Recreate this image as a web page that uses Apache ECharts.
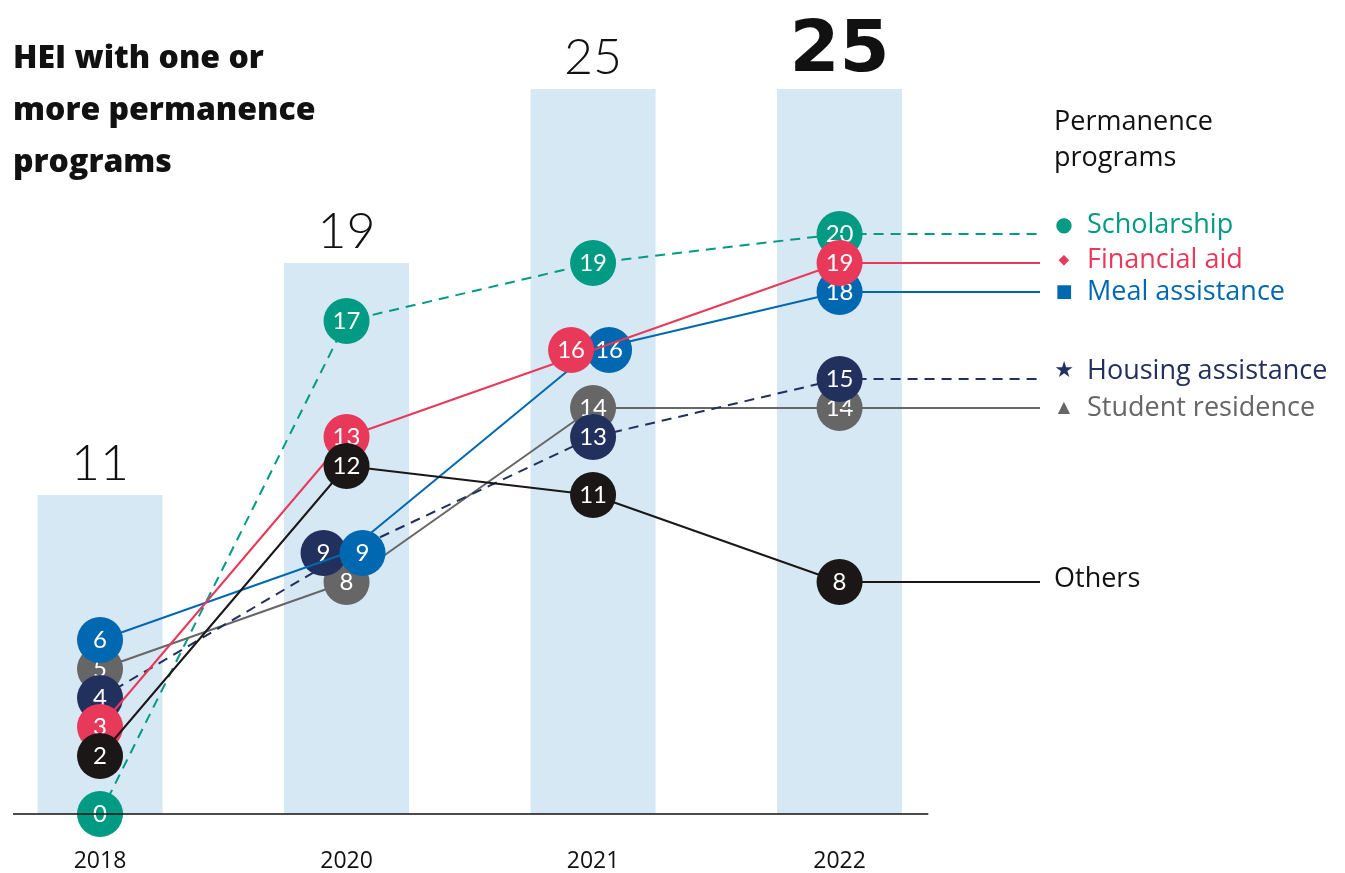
<!DOCTYPE html>
<html>
<head>
<meta charset="utf-8">
<script src="https://cdn.jsdelivr.net/npm/echarts@6/dist/echarts.min.js"></script>
<style>
  html, body { margin: 0; padding: 0; background: #fff; }
  #chart { width: 1345px; height: 873px; }
</style>
</head>
<body>
<div id="chart"></div>
<script>
// data
const years = ['2018', '2020', '2021', '2022'];
const totalHEI = [11, 19, 25, 25];
const scholarship = [0, 17, 19, 20];
const financialAid = [3, 13, 16, 19];
const mealAssistance = [6, 9, 16, 18];
const housingAssistance = [4, 9, 13, 15];
const studentResidence = [5, 8, 14, 14];
const others = [2, 12, 11, 8];

const FONT = 'Lato';
const TEXT_FONT = 'Open Sans';
const X_MIN = -0.353;     // left edge of the plot (axis starts here)
const X_AXIS_END = 3.36;  // where the baseline stops
const X_LEGEND = 3.813;   // where the end lines stop (right edge of grid)
const DASH = [10, 7];

const chart = echarts.init(document.getElementById('chart'));

function lineSeries(name, values, color, opts) {
    const last = values.length - 1;
    const rich = {
        i: { width: 20, align: 'center', fontFamily: 'DejaVu Sans', fontSize: opts.iconSize || 16, color: color },
        t: { fontSize: 27, fontFamily: TEXT_FONT, color: opts.textColor || color, padding: [0, 0, 0, opts.icon ? 13 : 0] }
    };
    return {
        type: 'line',
        name: name,
        z: opts.z,
        data: values.map(function (v, i) {
            const item = { value: [i, v] };
            if (opts.offsets && opts.offsets[i] != null) {
                item.symbolOffset = [opts.offsets[i], 0];
            }
            return item;
        }),
        symbol: 'circle',
        symbolSize: 46,
        itemStyle: { color: color },
        lineStyle: { color: color, width: 2, type: opts.dashed ? DASH : 'solid' },
        label: {
            show: true,
            position: 'inside',
            color: '#fff',
            fontSize: 24,
            fontFamily: FONT,
            formatter: function (p) { return p.value[1]; }
        },
        emphasis: { disabled: true },
        markLine: {
            silent: true,
            symbol: ['none', 'none'],
            lineStyle: { color: color, width: 2, type: opts.dashed ? DASH : 'solid' },
            label: {
                show: true,
                position: 'end',
                distance: 14,
                padding: [0, 0, opts.lift || 0, 0],
                formatter: opts.icon ? '{i|' + opts.icon + '}{t|' + name + '}' : '{t|' + name + '}',
                rich: rich
            },
            emphasis: { disabled: true },
            data: [[{ coord: [last, values[last]] }, { coord: [X_LEGEND, values[last]] }]]
        }
    };
}

const option = {
    animation: false,
    backgroundColor: '#fff',
    title: [
        {
            text: 'HEI with one or\nmore permanence\nprograms',
            left: 13,
            top: 33,
            padding: 0,
            textStyle: { fontFamily: TEXT_FONT, fontWeight: 800, fontSize: 32, lineHeight: 52, color: '#111' }
        },
        {
            text: 'Permanence\nprograms',
            left: 1054,
            top: 104,
            padding: 0,
            textStyle: { fontFamily: TEXT_FONT, fontWeight: 'normal', fontSize: 27, lineHeight: 36, color: '#111' }
        }
    ],
    grid: { left: 13, right: 305, top: 89, bottom: 59 },
    xAxis: {
        type: 'value',
        min: X_MIN,
        max: X_LEGEND,
        axisLine: { show: false },
        axisTick: { show: false },
        splitLine: { show: false },
        axisLabel: {
            customValues: [0, 1, 2, 3],
            margin: 36,
            fontFamily: TEXT_FONT,
            fontSize: 23,
            color: '#111',
            formatter: function (v) { return years[Math.round(v)]; }
        }
    },
    yAxis: {
        type: 'value',
        min: 0,
        max: 25,
        show: false,
        splitLine: { show: false }
    },
    series: [
        {
            type: 'bar',
            name: 'HEI',
            z: 1,
            barWidth: 125,
            itemStyle: { color: '#d6e8f4' },
            data: totalHEI.map(function (v, i) {
                const item = { value: [i, v] };
                if (i === totalHEI.length - 1) {
                    item.label = { fontSize: 72, fontWeight: 'bold', fontFamily: 'DejaVu Sans', distance: 1 };
                }
                return item;
            }),
            label: {
                show: true,
                position: 'top',
                distance: 6,
                fontFamily: FONT,
                fontWeight: 300,
                fontSize: 50,
                color: '#111',
                formatter: function (p) { return p.value[1]; }
            },
            emphasis: { disabled: true },
            markLine: {
                silent: true,
                symbol: ['none', 'none'],
                lineStyle: { color: '#111', width: 1.5, type: 'solid' },
                label: { show: false },
                data: [[{ coord: [X_MIN, 0] }, { coord: [X_AXIS_END, 0] }]]
            }
        },
        lineSeries('Scholarship', scholarship, '#009b82', { z: 2, dashed: true, icon: '●', iconSize: 20, lift: 17 }),
        lineSeries('Student residence', studentResidence, '#666666', { z: 3, icon: '▲', iconSize: 16 }),
        lineSeries('Housing assistance', housingAssistance, '#22305e', { z: 4, dashed: true, icon: '★', iconSize: 22, lift: 16, offsets: { 1: -23 } }),
        lineSeries('Meal assistance', mealAssistance, '#0068b1', { z: 5, icon: '■', iconSize: 18, offsets: { 1: 16, 2: 16 } }),
        lineSeries('Financial aid', financialAid, '#e8395a', { z: 6, icon: '◆', iconSize: 14, lift: 6, offsets: { 2: -22 } }),
        lineSeries('Others', others, '#1a1716', { z: 7, textColor: '#111', lift: 6 })
    ]
};

chart.setOption(option);
</script>
</body>
</html>
